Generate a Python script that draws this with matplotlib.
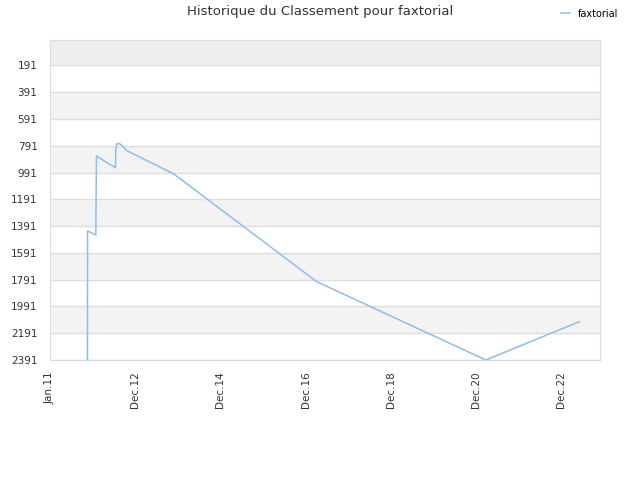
import numpy as np
import pandas as pd
import matplotlib
matplotlib.use('Agg')
import matplotlib.pyplot as plt
import matplotlib.dates as mdates

# rank history
dates = ['2011-11-18', '2011-11-19', '2012-01-29', '2012-01-30', '2012-02-03',
         '2012-07-15', '2012-07-18', '2012-07-26', '2012-08-12', '2012-08-30',
         '2012-10-21', '2013-11-28', '2017-04-05', '2021-03-24', '2023-06-04']
ranks = [2391, 1428, 1457, 1301, 868,
         955, 823, 778, 774, 781,
         828, 1002, 1806, 2391, 2105]

ytick_vals = [191, 391, 591, 791, 991, 1191, 1391, 1591, 1791, 1991, 2191, 2391]
xtick_labels = ['Jan.11', 'Dec.12', 'Dec.14', 'Dec.16', 'Dec.18', 'Dec.20', 'Dec.22']

x = pd.to_datetime(dates)
start = pd.Timestamp('2011-01-01')
xticks = [start + pd.Timedelta(days=730 * i) for i in range(len(xtick_labels))]

fig = plt.figure(figsize=(6.4, 4.8), dpi=100)
ax = fig.add_axes([50 / 640, 120 / 480, 550 / 640, 320 / 480])

# background bands
ax.axhspan(1, 191, color='#eeeeee', zorder=0, lw=0)
for lo in range(391, 2391, 400):
    ax.axhspan(lo, lo + 200, color='#f3f3f3', zorder=0, lw=0)
for v in ytick_vals:
    ax.axhline(v, color='#dddddd', lw=1, zorder=1)

ax.plot(x, ranks, color='#8cbdf0', lw=1.1, zorder=2, label='faxtorial')

ax.set_ylim(2391, 1)
ax.set_yticks(ytick_vals)
ax.set_xlim(start, start + pd.Timedelta(days=4714))
ax.set_xticks(xticks)
ax.set_xticklabels(xtick_labels, rotation=90)
ax.tick_params(axis='y', length=0, labelsize=7.5, colors='#333333', pad=9)
ax.tick_params(axis='x', length=0, labelsize=7.5, colors='#333333', pad=8)

for s in ax.spines.values():
    s.set_color('#dddddd')

fig.text(0.5, 0.99, 'Historique du Classement pour faxtorial', ha='center', va='top',
         fontsize=9.5, color='#333333')
fig.legend(loc='upper right', bbox_to_anchor=(0.98, 1.0), frameon=False, fontsize=7,
           handlelength=1.0, handletextpad=0.8)

fig.savefig('out.png', dpi=100)
